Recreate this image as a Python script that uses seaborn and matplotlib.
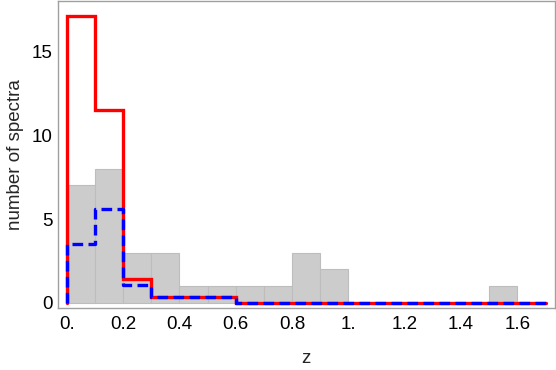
import numpy as np
import matplotlib
matplotlib.use("Agg")
import matplotlib.pyplot as plt
import seaborn as sns
from matplotlib.ticker import MultipleLocator

# gray histogram: counts per 0.1 bin in z
bin_edges = [0.0, 0.1, 0.2, 0.3, 0.4, 0.5, 0.6, 0.7, 0.8, 0.9, 1.0,
             1.1, 1.2, 1.3, 1.4, 1.5, 1.6]
bin_counts = [7, 8, 3, 3, 1, 1, 1, 1, 3, 2, 0, 0, 0, 0, 0, 1]

# step curves (variable bins)
step_edges = [0.0, 0.1, 0.2, 0.3, 0.6, 1.7]
red_vals = [17.1, 11.5, 1.4, 0.35, 0.0]
blue_vals = [3.5, 5.6, 1.05, 0.35, 0.0]

x_ticks = [0.0, 0.2, 0.4, 0.6, 0.8, 1.0, 1.2, 1.4, 1.6]
x_labels = ["0.", "0.2", "0.4", "0.6", "0.8", "1.", "1.2", "1.4", "1.6"]
y_ticks = [0, 5, 10, 15]

sns.set_style("white")
plt.rcParams['font.family'] = ['Liberation Sans', 'DejaVu Sans']

fig = plt.figure(figsize=(5.56, 3.70), dpi=100)
ax = fig.add_axes([0.104, 0.168, 0.894, 0.829])

centers = [(a + b) / 2 for a, b in zip(bin_edges[:-1], bin_edges[1:])]
sns.histplot(x=centers, weights=bin_counts, bins=bin_edges, ax=ax,
             color="#cccccc", edgecolor="#bdbdbd", linewidth=0.8, alpha=1.0)


def step_xy(edges, vals):
    xs = [edges[0]] + list(edges)
    ys = [0.0] + list(vals) + [vals[-1]]
    return xs, ys


xr, yr = step_xy(step_edges, red_vals)
ax.plot(xr, yr, drawstyle="steps-post", color="red", lw=2.4,
        solid_joinstyle="miter")
xb, yb = step_xy(step_edges, blue_vals)
ax.plot(xb, yb, drawstyle="steps-post", color="blue", lw=2.4,
        dashes=(3.2, 1.6))

ax.set_xlim(-0.032, 1.733)
ax.set_ylim(-0.3, 18.0)
ax.set_xticks(x_ticks)
ax.set_xticklabels(x_labels)
ax.set_yticks(y_ticks)
ax.yaxis.set_minor_locator(MultipleLocator(1))

for s in ax.spines.values():
    s.set_color("#a0a0a0")
    s.set_linewidth(1.0)
ax.tick_params(axis="both", which="major", direction="in", length=5,
               color="#a0a0a0", labelsize=13.5, labelcolor="black", pad=4)
ax.tick_params(axis="y", which="minor", direction="in", length=3,
               color="#a0a0a0")
ax.tick_params(axis="x", pad=6)

ax.set_xlabel("z", fontsize=13.5, labelpad=12)
ax.set_ylabel("number of spectra", fontsize=13.5, labelpad=5)

fig.savefig("out.png", dpi=100)
